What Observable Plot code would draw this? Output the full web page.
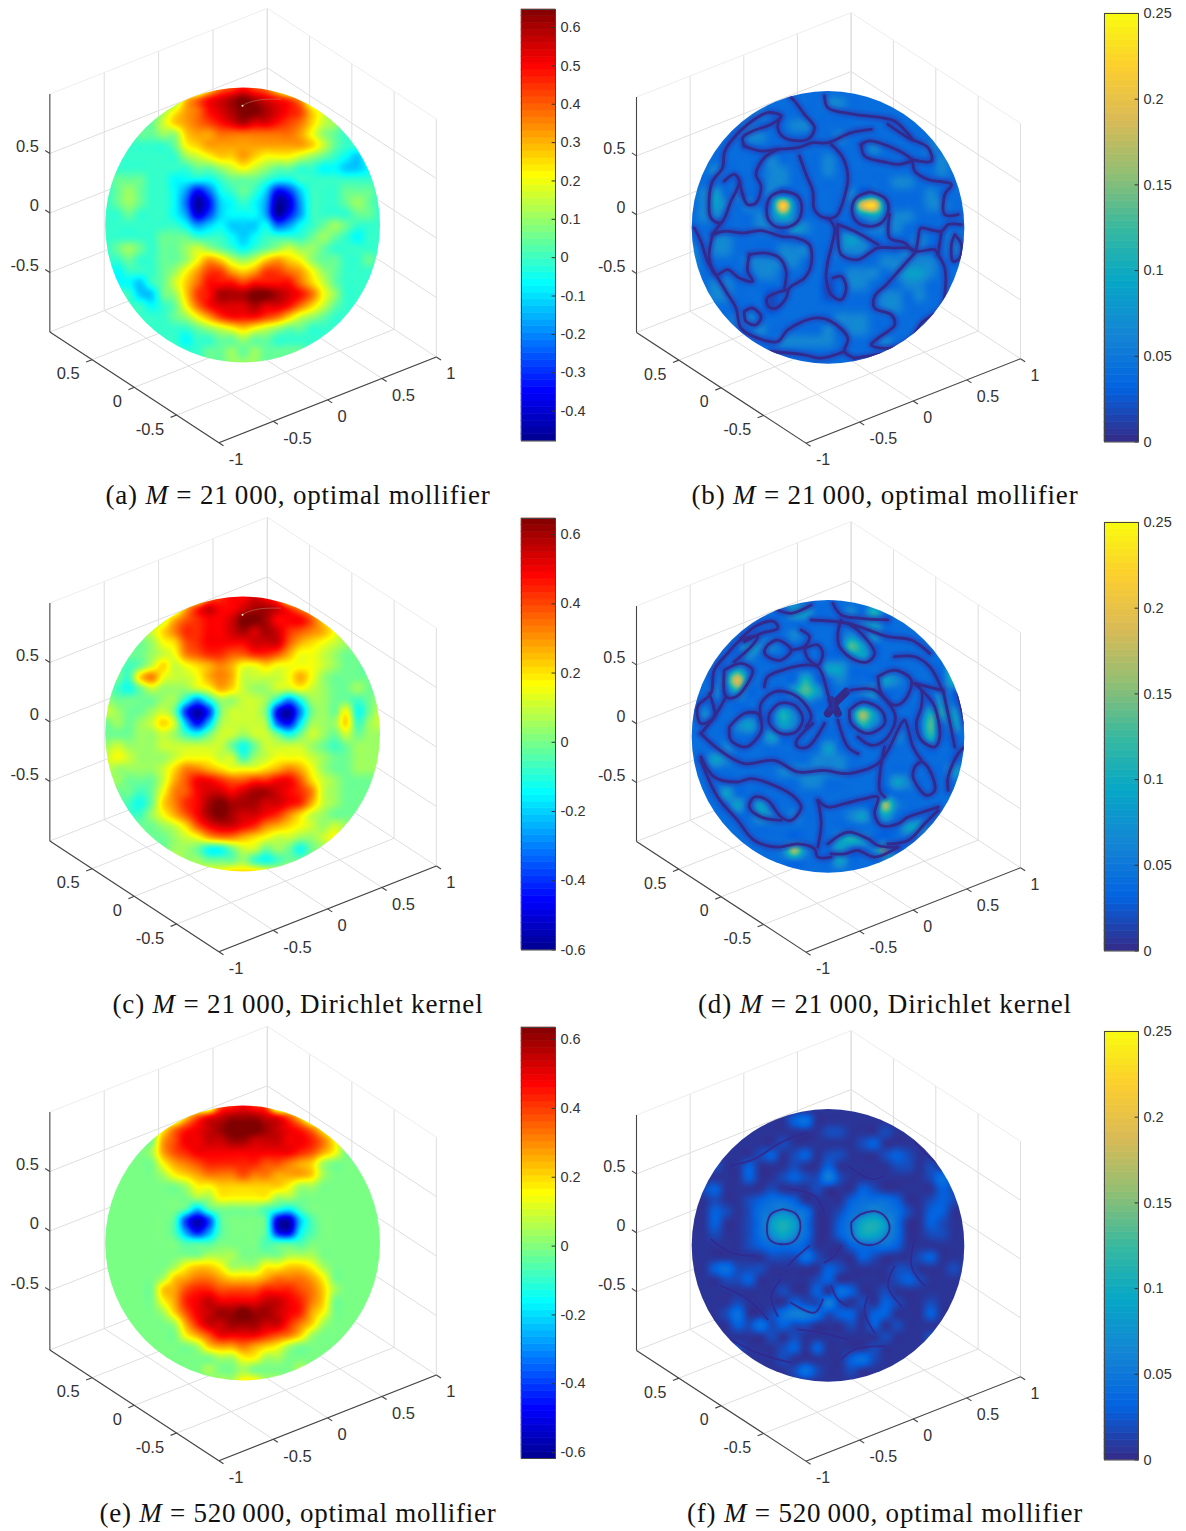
<!DOCTYPE html>
<html><head><meta charset="utf-8">
<script src="https://cdn.jsdelivr.net/npm/d3@7"></script>
<script src="https://cdn.jsdelivr.net/npm/@observablehq/plot@0.6"></script>
<style>
html,body{margin:0;padding:0;background:#fff}
#page{position:relative;width:1186px;height:1531px;overflow:hidden;background:#fff}
#page svg{position:absolute;background:transparent;overflow:visible}
.cap{position:absolute;white-space:nowrap;font:27px/30px "Liberation Serif",serif;color:#111;transform:translateX(-50%)}
.halo{filter:blur(1.6px)}
.core{filter:blur(.35px)}
</style></head><body><div id="page"></div>
<script>
// ---------- read-off data ----------
const axisTicks=[-1,-0.5,0,0.5,1];
const zTicks=[0.5,0,-0.5];
const jetTicks=[-0.4,-0.3,-0.2,-0.1,0,0.1,0.2,0.3,0.4,0.5,0.6];
const jetTicksWide=[-0.6,-0.4,-0.2,0,0.2,0.4,0.6];
const parulaTicks=[0,0.05,0.1,0.15,0.2,0.25];
const jetStops=["#00008f","#0000ff","#00ffff","#ffff00","#ff0000","#800000"];
const parulaStops=["#352a87","#0363e1","#1485d4","#06a7c6","#38b99e","#92bf73","#d9ba56","#fcce2e","#f9fb0e"];
// left-hand spheres: level characters, one row per 1/12 radius, top to bottom
const levelChars="XY0123456789abcdefghijk";
const gridA=["888888888cfghgfc888888888","8888889dfhijkjihgea888888","88888acefhijkkjihgdb88888","88889bdefghijiihgfdba8888","88899aadeefffffffeca98888","8888889cdeeeeeeeeedb98888","8888888abcddedcccba987688","8888888899abcba9988776678","8999887777899987788888888","89a9887524789862368889998","89a9887402678750158889a98","8898887513677750258888998","88888887567666745789a9888","8888899988876788889a98788","89a9899aba98789abaa988888","8898899acedbabdedca998898","878889aceggedeggfeca98888","877689bdfhhhghhhhfdb98888","888669adghjjjkkjihfca8888","8888789cfhiiijiihfdb98888","8888889aceghhhgfdba988888","888888889abcdcba998888888","888888878899a998888888888","88888888899a9a99998888888","88888888899aaa99888888888"];
const gridC=["999999999eghhihf999999999","9999999dgihhijjigec999999","99999adfghhikkjhhhfca9999","8889acegghhijijigfedb9888","78889bcfghhhhiiifdcba9888","78889abefggffggfdbba98878","8878acabcdedbbcbbbba98878","887cebaabdedaaaabdb988888","8768a999abdca99aaba988988","988889963699aa963699"+"88789","a9889a81X1"+"8aaa80X389"+"8b68a","8989aca404"+"9aaa920599"+"9c79a","88899a9768aa9aa868a98a899","9a999aaaaaa868aaaa9878999","aba999abbbaa79abbba988999","a9999aceedcbbbcdedb988999","99888adfhhgffgghhfca98888","98878befhiihijjihgea98888","98768ceghjkjjjiihgda98888","98779bdfhjkjiihgeca988888","898889acfhiihgedcba9a9888","8898889abdeedcbaa99ab9888","888988998668aa898689aa988","988889a998889767889aa9888","aaaaaaaaabbcccbaaaaaaaaaa"];
const gridE=["9999999999fghgf9999999999","9999999cfhijjjihfc9999999","99999beghijkkkjihgeb99999","99999dfhhiijjiiihhgeb9999","9999adfghhhhhhhhhgfdb9999","99999bdefgggggffedca99999","99999abcdeeefeedddca99999","9999999abbccccccbaa999999","99999999aabbbbbaa99999999","9999999848"+"9999865899"+"99999","9999998"+"1X1"+"89997YX489"+"99999","9999998"+"303"+"899970Y589"+"99999","9999999878"+"9999877899"+"99999","999999999aaa9999aaa999999","999999abccbaaabbccba99999","99999acdeedcccdeeedb99999","99999cdfggffffgggfeca9999","99999bdghihhhhiihgec99999","99999acfhijjkjjihgdb99999","999999adgiijjjiigeca99999","9999999bdfhhhhgfeca999999","99999999acddedcba99999999","9999999999aabbaa999999999","999999999a99a9999a9999999","9999999999aabbaa999999999"].map(r=>r.replace(/8/g,"7").replace(/9/g,"8").replace(/a/g,"9"));
// right-hand spheres: digit levels
const levelsBD=[0,.02,.04,.062,.085,.105,.13,.16,.19,.22];
const levelsF=[0,.006,.018,.03,.042,.055,.07,.085,.095,.105];
const gridB=["2222222222222222222222222","2222222222223322222222222","2222223222222222222222222","2222232223322222222222222","2222233222222322222222222","2222222222222222322223222","2222222322223222222222322","2232222332223222222222322","2222222332222222223322222","2342322322222232322223222","2343232393"+"2222389322"+"23322","2332223353222223433322222","2222223324322222333222222","2233222222222343222232232","3233222233322333222332232".slice(0,25),"3222233333222222233333222","3222223322222233323443222","2233222222221233222332222".slice(0,25),"2233222122221222233232222".slice(0,25),"2222222122222222233222222","2222332222222333222222222".slice(0,25),"2222223222223233222222222","2222222233333222232222222","2222222222222222222222222","2222222222222222222222222"];
const gridD=["2222222222222222222222222",
"222222222"+"54"+"222"+"3"+"2"+"5"+"22222222",
"222222222222222"+"34"+"22222222",
"222222222"+"3"+"2222"+"3"+"2"+"4"+"22222222",
"22222"+"533"+"222222"+"64"+"222222222",
"22222"+"3"+"22222222"+"34"+"222222222",
"2222"+"4"+"2222222"+"44"+"222222222"+"5"+"2",
"222"+"483"+"2222"+"5"+"22"+"3"+"222"+"43"+"2222"+"5"+"2",
"22"+"3"+"2"+"5"+"2222"+"464"+"222"+"34"+"22222"+"3"+"22",
"2222222222"+"3"+"22222222222"+"4"+"22",
"2"+"3"+"222222"+"53"+"2222"+"374"+"2222"+"554"+"2",
"2222"+"34"+"22"+"43"+"22222"+"53"+"2222"+"6"+"2"+"4"+"2",
"2222222"+"4"+"2222222222"+"3"+"22"+"5"+"222",
"222"+"3"+"22222222"+"4"+"222222222222",
"22"+"43"+"2222222"+"333"+"22222222222",
"22222222"+"333333"+"222222222"+"4"+"2",
"2222222222"+"33"+"222222"+"43"+"22222",
"222"+"4"+"222222222222222222222",
"2222"+"4"+"2"+"4"+"2222222222"+"73"+"222222",
"222222"+"43"+"2"+"3"+"2222"+"34"+"2"+"4"+"2222222",
"2222222222222222222"+"44"+"2222",
"2222222222222"+"454"+"222222222",
"22222222"+"373"+"22"+"4"+"22"+"37"+"2222222",
"2222222222222"+"4"+"22222222222",
"2222222222222222222222222"];
const gridF=["1111111111111111111111111","1111111113411111111111111","1111111111112211121111111","1111111121111112311111111","1111112312"+"3122111232"+"11111","1121131112"+"1131111122"+"12111","1111131123"+"2252111111"+"12421","1231111211"+"1211132111"+"11321","1121123443"+"1111344431"+"12321","1132124565"+"4112456542"+"13311","1131124797"+"4113589741"+"13211","1121124686"+"4113588641"+"12211","1111123444"+"3111344431"+"11111","1111111222"+"4211132111"+"23111","1134222111"+"1132111122"+"11121","1112231111"+"1231111123"+"21111","1111111121"+"1314311211"+"11111","1111211113"+"2252121321"+"12111","1112411245"+"5423313311"+"13111","1111324232"+"2111213121"+"11111","1111111212"+"1111111211"+"12111","1111211123"+"1311112111"+"11111","1111111121"+"1111342111"+"11111","1111111112"+"4211211111"+"11111","1111111111111111111111111"];
// dark zero-level veins traced off the right-hand spheres (zoomed-crop pixels)
const veinsB=[
[[305,330],[350,345],[362,385],[345,425],[300,440],[265,420],[257,380],[270,345],[305,330]],
[[565,332],[610,350],[622,385],[600,425],[560,435],[525,420],[512,385],[525,350],[565,332]],
[[95,460],[130,450],[190,455],[240,448],[300,465],[345,470],[385,490],[390,550],[370,590],[325,620],[315,650],[285,680],[262,675],[258,650],[285,635],[320,625]],
[[205,520],[250,515],[295,530],[315,570],[310,620]],
[[205,520],[200,570],[215,600],[175,590],[140,565],[105,580],[85,530],[95,460]],
[[40,440],[60,480],[80,540],[105,580],[135,630],[165,680],[180,740],[230,770],[290,780],[320,745],[400,710],[450,720],[500,770],[490,810],[520,830]],
[[190,690],[215,680],[240,705],[225,730],[195,720],[190,690]],
[[270,810],[370,820],[420,830],[490,810]],
[[355,225],[375,280],[395,330],[400,385],[430,410],[465,405],[490,345],[500,290],[485,230],[450,190]],
[[470,430],[520,450],[590,490]],
[[470,430],[470,470],[480,520],[530,535],[590,500],[640,500],[680,500],[710,510],[760,505],[770,520],[790,560],[790,640],[780,680],[720,725],[690,770],[630,800],[570,790],[590,770],[640,730],[630,700],[580,680],[580,645],[615,610],[660,560],[705,510]],
[[440,410],[460,440],[450,500],[440,540],[435,590],[450,640],[480,655],[495,620],[480,585],[455,590]],
[[625,400],[625,470],[670,485],[700,510],[715,445],[720,440],[780,450],[800,430],[840,430]],
[[820,460],[840,490],[835,530],[815,540],[810,490],[820,460]],
[[780,450],[770,520]],
[[540,190],[560,180],[620,195],[690,235],[700,270],[740,295],[810,310],[790,340],[790,400],[830,400]],
[[540,190],[550,225],[620,245],[650,250],[690,240]],
[[620,130],[680,170],[740,200],[750,240],[690,235]],
[[430,45],[440,80],[520,100],[600,110],[640,120],[690,170]],
[[330,50],[340,60],[370,100],[400,140],[380,175],[310,170],[290,140],[300,105]],
[[190,195],[185,170],[215,150],[270,130],[300,105],[260,95],[200,130],[150,180],[130,215],[125,260],[95,300],[85,350],[90,410],[120,425],[150,360],[175,300],[160,280],[130,300]],
[[185,340],[200,370],[225,365],[240,315],[225,280],[250,230],[290,205]],
[[190,195],[240,210],[290,205],[350,200],[395,185],[440,185],[510,155],[570,145]],
[[185,340],[175,300]],[[120,425],[95,460]],
[[520,830],[610,815],[680,800],[630,800]]
];
const veinsD=[
[[265,370],[295,340],[340,345],[365,385],[345,425],[300,430],[265,400],[265,370]],
[[240,390],[240,340],[280,305],[330,310],[370,340],[390,380],[375,410]],
[[145,410],[190,370],[230,370],[240,390],[240,425],[195,470],[150,450],[145,410]],
[[250,290],[260,260],[320,235],[370,225],[410,230],[440,310],[450,350]],
[[505,360],[545,335],[600,360],[610,400],[560,430],[510,400],[505,360]],
[[510,300],[580,300],[640,370],[640,400],[610,450],[570,465],[530,440]],
[[470,390],[500,470],[530,490]],
[[430,400],[380,470],[350,470],[345,455],[395,400]],
[[60,430],[110,475],[190,520],[280,510],[350,545],[430,540],[500,550],[590,520],[620,480],[660,400],[670,390],[695,470],[720,510]],
[[610,470],[600,520],[595,600],[610,620]],
[[60,500],[100,560],[170,575],[210,565],[290,590],[340,620],[360,650],[330,690],[300,680],[260,630],[220,620],[205,650],[240,680],[300,690]],
[[60,510],[110,620],[170,690],[220,750],[290,770],[350,760],[400,775],[410,800],[450,800]],
[[410,630],[420,700],[410,770]],
[[410,630],[440,650],[490,640],[550,625],[590,620],[580,670],[600,705],[650,700],[680,680],[740,660],[770,650]],
[[440,760],[500,725],[560,745],[590,765],[650,770]],
[[450,790],[490,790],[530,780],[580,800],[650,770]],
[[620,760],[680,750],[730,700],[770,660]],
[[700,530],[695,560],[735,615],[760,600],[745,540],[720,515],[700,530]],
[[800,600],[800,560],[830,490],[850,470]],
[[700,280],[720,300],[720,350],[705,400],[720,450],[760,470],[775,440],[760,350],[740,320],[700,280]],
[[785,300],[810,420],[820,470]],[[830,310],[850,400]],
[[590,260],[640,240],[690,270],[670,330],[640,345],[600,310],[590,260]],
[[700,280],[780,300]],[[640,200],[700,200],[745,230],[780,295]],
[[480,90],[470,130],[475,170],[520,210],[560,215],[580,190],[540,130],[500,100]],
[[390,90],[500,100],[620,140],[690,150],[745,190]],
[[455,40],[480,75],[540,85],[620,90]],
[[290,60],[330,70],[390,45]],
[[180,145],[230,105],[280,95],[290,115],[240,130],[190,155]],
[[260,165],[290,150],[330,180],[300,210],[260,200],[250,185],[260,165]],
[[330,180],[370,170],[385,140],[360,120]],
[[370,175],[380,205],[410,225],[425,190],[410,165],[370,175]],
[[130,240],[180,220],[215,240],[200,280],[165,320],[135,320],[130,240]],
[[160,215],[210,170],[230,140],[180,150],[140,190],[100,240],[90,310],[50,350],[60,400],[100,380],[85,310]],
[[135,320],[100,380],[60,430]]
];
const starD=[[[440,370],[460,340],[495,305]],[[450,330],[470,370]]];
const veinsF=[
[[305,330],[345,345],[358,385],[340,425],[300,435],[265,420],[258,380],[270,345],[305,330]],
[[510,370],[540,345],[590,338],[620,365],[622,400],[590,432],[545,435],[515,410],[510,370]],
[[385,440],[350,470],[320,500]],[[450,560],[470,600],[500,620]],[[425,600],[400,640],[330,610]],
[[300,540],[270,590],[290,650]],[[560,590],[550,640],[580,700]],[[120,560],[200,600],[260,660]],
[[640,500],[620,560],[660,620]],[[150,200],[220,180],[300,130],[380,100]],[[500,200],[570,240],[610,230]],
[[700,130],[750,180],[780,200]],[[90,420],[150,460],[220,470]],[[700,420],[690,500],[730,560]],[[350,690],[420,700],[500,720]],
[[150,720],[230,760],[330,790]],[[480,780],[520,750],[610,740]],[[330,270],[400,290],[430,340]],[[480,440],[460,470],[430,490]]
];
const seam=[[456,88],[470,80],[510,70],[570,68]];
const captions=[
["(a) ","21\u2009000, optimal mollifier",385],["(b) ","21\u2009000, optimal mollifier",387],
["(c) ","21\u2009000, Dirichlet kernel",371],["(d) ","21\u2009000, Dirichlet kernel",374],
["(e) ","520\u2009000, optimal mollifier",397],["(f) ","520\u2009000, optimal mollifier",396]];

// ---------- helpers ----------
const page=document.getElementById("page");
const basisL={xx:108.75,xy:42.85,yx:-84.5,yy:55.35,zz:119,r:137.4,cx:242.6,cy:225,left:0,w:515,fs:16.5};
const basisR={xx:107.3,xy:42.2,yx:-84.7,yy:55.35,zz:117.7,r:136.3,cx:828,cy:227.4,left:590,w:505,fs:16};
const H=505;
const proj=(b,x,y,z)=>({u:(b.xx*x+b.yx*y)/b.r,v:(b.xy*x+b.yy*y+b.zz*z)/b.r});
const seg=(b,p,q,k)=>{const a=proj(b,...p),c=proj(b,...q);return {x1:a.u,y1:a.v,x2:c.u,y2:c.v,k}};
function catmull(p0,p1,p2,p3,t){return 0.5*(2*p1+(p2-p0)*t+(2*p0-5*p1+4*p2-p3)*t*t+(3*p1-p0-3*p2+p3)*t*t*t)}
function sampler(M){return (u,v)=>{
  const gx=(u+1)*12,gy=(1-v)*12,ix=Math.floor(gx),iy=Math.floor(gy),fx=gx-ix,fy=gy-iy;
  const at=(i,j)=>M[Math.max(0,Math.min(24,j))][Math.max(0,Math.min(24,i))];
  const r=[-1,0,1,2].map(d=>catmull(at(ix-1,iy+d),at(ix,iy+d),at(ix+1,iy+d),at(ix+2,iy+d),fx));
  return catmull(r[0],r[1],r[2],r[3],fy);
}}
const jetScale=(lo,hi)=>({type:"linear",clamp:true,domain:[0,.115,.365,.615,.87,1].map(t=>lo+t*(hi-lo)),range:jetStops});
const parScale={type:"linear",clamp:true,domain:d3.range(9).map(i=>i*0.25/8),range:parulaStops};

function sphere({basis:b,row,color,grid,veins=[],thick=[],seamLine=false,coreW=2.8,haloW=8,haloOp=.6,abs=false}){
  const top=row*509,cxp=b.cx-b.left,cyp=b.cy;
  const R=b.r;
  const grids=[],topEdge=[],axes=[];
  for(const x of axisTicks){grids.push(seg(b,[x,-1,-1],[x,1,-1]));if(x>-1)grids.push(seg(b,[x,1,-1],[x,1,1]));}
  for(const y of axisTicks){grids.push(seg(b,[-1,y,-1],[1,y,-1]));grids.push(seg(b,[1,y,-1],[1,y,1]));}
  for(const z of zTicks){grids.push(seg(b,[-1,1,z],[1,1,z]));grids.push(seg(b,[1,1,z],[1,-1,z]));}
  topEdge.push(seg(b,[-1,1,1],[1,1,1]),seg(b,[1,1,1],[1,-1,1]));
  axes.push(seg(b,[-1,1,-1],[-1,1,1]),seg(b,[-1,-1,-1],[-1,1,-1]),seg(b,[-1,-1,-1],[1,-1,-1]));
  for(const x of axisTicks)axes.push(seg(b,[x,-1,-1],[x,-1.055,-1]));
  for(const y of zTicks)axes.push(seg(b,[-1,y,-1],[-1.055,y,-1]));
  for(const z of zTicks)axes.push(seg(b,[-1,1,z],[-1,1.055,z]));
  const fmt=d=>String(d);
  const zL=zTicks.map(t=>({...proj(b,-1,1,t),t:fmt(t)}));
  const yL=zTicks.map(t=>({...proj(b,-1,t,-1),t:fmt(t)}));
  const xL=axisTicks.map(t=>({...proj(b,t,-1,-1),t:fmt(t)}));
  const toPts=(L)=>L.flatMap((line,id)=>line.map(([x,y])=>({u:(x-442)/408,v:-(y-440)/408,id})));
  const pts=toPts(veins),tpts=toPts(thick);
  const f=sampler(grid);
  const link=(d,o)=>Plot.link(d,{x1:"x1",y1:"y1",x2:"x2",y2:"y2",...o});
  const lab=(d,o)=>Plot.text(d,{x:"u",y:"v",text:"t",fill:"#333",fontSize:b.fs,fontFamily:"Liberation Sans",...o});
  const marks=[
    link(grids,{stroke:"#dedede",strokeWidth:1}),
    link(topEdge,{stroke:"#eeeeee",strokeWidth:1}),
    Plot.raster({fill:(u,v)=>{if(u*u+v*v>1.03)return NaN;const w=f(u,v);return abs?Math.abs(w):w;},x1:-1.02,x2:1.02,y1:-1.02,y2:1.02,pixelSize:1,className:"surf"}),
    link(axes,{stroke:"#454545",strokeWidth:1.1}),
    lab(zL,{textAnchor:"end",dx:-11,dy:-7}),
    lab(yL,{textAnchor:"end",dx:-12.5,dy:14.5}),
    lab(xL,{textAnchor:"start",dx:10,dy:17})
  ];
  if(pts.length){
    marks.splice(3,0,
      Plot.line(pts,{x:"u",y:"v",z:"id",curve:"catmull-rom",stroke:"#2440b8",strokeWidth:haloW,strokeOpacity:haloOp,className:"surf halo"}),
      Plot.line(pts,{x:"u",y:"v",z:"id",curve:"catmull-rom",stroke:"#322a8c",strokeWidth:coreW,className:"surf core"}));
  }
  if(tpts.length) marks.splice(3,0,Plot.line(tpts,{x:"u",y:"v",z:"id",stroke:"#352a87",strokeWidth:8,strokeLinecap:"round",className:"surf core"}));
  if(seamLine){
    const s=seam.map(([x,y])=>({u:(x-457.8)/412,v:-(y-447)/412}));
    marks.splice(3,0,Plot.line(s,{x:"u",y:"v",curve:"catmull-rom",stroke:"#b9a98c",strokeWidth:.6,strokeOpacity:.7,className:"surf"}),
      Plot.dot(s.slice(0,1),{x:"u",y:"v",r:1,fill:"#f4f4d0",className:"surf"}));
  }
  const svg=Plot.plot({width:b.w,height:H,margin:0,
    x:{axis:null,domain:[-cxp/R,(b.w-cxp)/R],range:[0,b.w]},
    y:{axis:null,domain:[-(H-cyp)/R,cyp/R],range:[H,0]},
    color,marks});
  svg.style.left=b.left+"px";svg.style.top=top+"px";
  const id="clip"+b.left+"_"+row;
  const cp=d3.select(svg).append("defs").append("clipPath").attr("id",id);
  cp.append("circle").attr("cx",cxp).attr("cy",cyp).attr("r",R);
  svg.querySelectorAll(".surf").forEach(g=>{ if(g.tagName.toLowerCase()==="g"){ const w=document.createElementNS("http://www.w3.org/2000/svg","g"); w.setAttribute("clip-path",`url(#${id})`); g.parentNode.insertBefore(w,g); w.appendChild(g);} });
  page.appendChild(svg);
}
function colorbar({left,top,h,lo,hi,color,ticks}){
  const step=(hi-lo)/64,W=34,mt=2,mb=2,mr=50;
  const levels=d3.range(64).map(i=>({a:lo+i*step,b:lo+(i+1)*step,c:lo+(i+.5)*step}));
  const svg=Plot.plot({width:W+mr+1,height:h+mt+mb,marginTop:mt,marginBottom:mb,marginLeft:1,marginRight:mr,
    x:{axis:null,domain:[0,1]},y:{axis:null,domain:[lo,hi]},color,
    marks:[
      Plot.rect(levels,{x1:0,x2:1,y1:"a",y2:"b",fill:"c",stroke:"c",strokeWidth:.6}),
      Plot.ruleY(ticks,{x1:.9,x2:1,stroke:"#333"}),
      Plot.frame({stroke:"#444",strokeWidth:1}),
      Plot.axisY(ticks,{anchor:"right",tickSize:0,tickPadding:5,tickFormat:d=>String(d),fontSize:14.5,fontFamily:"Liberation Sans",fill:"#333",label:null})
    ]});
  svg.style.left=(left-1)+"px";svg.style.top=(top-mt)+"px";
  page.appendChild(svg);
}
const dec=(rows)=>rows.map(r=>[...r.padEnd(25,r[0])].map(c=>-0.56+levelChars.indexOf(c)*0.055));
const decN=(rows,L)=>rows.map(r=>[...r.padEnd(25,"2")].map(c=>L[+c]));
const ca=jetScale(-.478,.647),cc=jetScale(-.6,.6465),ce=jetScale(-.617,.635);
sphere({basis:basisL,row:0,color:ca,grid:dec(gridA),seamLine:true});
sphere({basis:basisL,row:1,color:cc,grid:dec(gridC),seamLine:true});
sphere({basis:basisL,row:2,color:ce,grid:dec(gridE)});
sphere({basis:basisR,row:0,color:parScale,grid:decN(gridB,levelsBD),veins:veinsB,abs:true});
sphere({basis:basisR,row:1,color:parScale,grid:decN(gridD,levelsBD),veins:veinsD,thick:starD,abs:true});
sphere({basis:basisR,row:2,color:parScale,grid:decN(gridF,levelsF),veins:veinsF,coreW:1.8,haloW:4,haloOp:.3,abs:true});
colorbar({left:520.5,top:9,h:431.5,lo:-.478,hi:.647,color:ca,ticks:jetTicks});
colorbar({left:520.5,top:518,h:431.5,lo:-.6,hi:.6465,color:cc,ticks:jetTicksWide});
colorbar({left:520.5,top:1027,h:431,lo:-.617,hi:.635,color:ce,ticks:jetTicksWide});
colorbar({left:1104,top:13,h:428.5,lo:0,hi:.25,color:parScale,ticks:parulaTicks});
colorbar({left:1104,top:522,h:428.5,lo:0,hi:.25,color:parScale,ticks:parulaTicks});
colorbar({left:1104,top:1031,h:428.5,lo:0,hi:.25,color:parScale,ticks:parulaTicks});
captions.forEach(([a,b,w],i)=>{
  const d=document.createElement("div");d.className="cap";
  d.innerHTML=a+"<i>M</i> = "+b;
  d.style.left=(i%2?885:298)+"px";d.style.top=(480+(i>>1)*509)+"px";
  page.appendChild(d);
  const cur=d.getBoundingClientRect().width,n=d.textContent.length;
  d.style.letterSpacing=((w-cur)/n)+"px";
});
</script></body></html>
